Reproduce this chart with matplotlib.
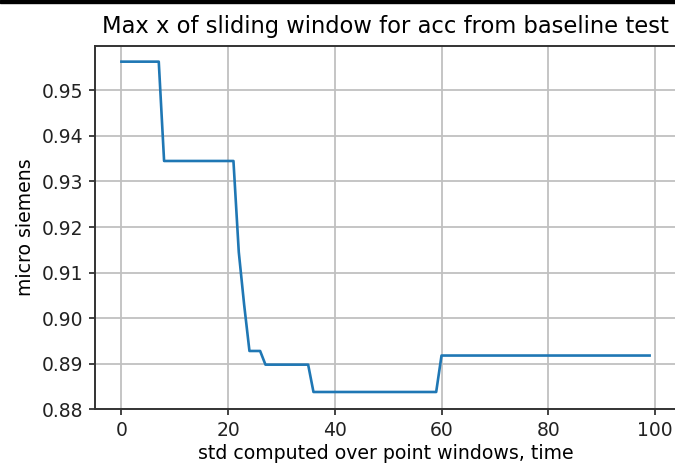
import matplotlib
matplotlib.use("Agg")
import matplotlib.pyplot as plt
from matplotlib.patches import Rectangle

title = "Max x of sliding window for acc from baseline test"
xlabel = "std computed over point windows, time"
ylabel = "micro siemens"

window = list(range(100))
max_x = [
    0.9563, 0.9563, 0.9563, 0.9563, 0.9563, 0.9563, 0.9563, 0.9563,
    0.9345, 0.9345, 0.9345, 0.9345, 0.9345, 0.9345, 0.9345, 0.9345,
    0.9345, 0.9345, 0.9345, 0.9345, 0.9345, 0.9345,
    0.9145, 0.9030,
    0.8928, 0.8928, 0.8928,
    0.8898, 0.8898, 0.8898, 0.8898, 0.8898, 0.8898, 0.8898, 0.8898, 0.8898,
    0.8838, 0.8838, 0.8838, 0.8838, 0.8838, 0.8838, 0.8838, 0.8838,
    0.8838, 0.8838, 0.8838, 0.8838, 0.8838, 0.8838, 0.8838, 0.8838,
    0.8838, 0.8838, 0.8838, 0.8838, 0.8838, 0.8838, 0.8838, 0.8838,
    0.8918, 0.8918, 0.8918, 0.8918, 0.8918, 0.8918, 0.8918, 0.8918,
    0.8918, 0.8918, 0.8918, 0.8918, 0.8918, 0.8918, 0.8918, 0.8918,
    0.8918, 0.8918, 0.8918, 0.8918, 0.8918, 0.8918, 0.8918, 0.8918,
    0.8918, 0.8918, 0.8918, 0.8918, 0.8918, 0.8918, 0.8918, 0.8918,
    0.8918, 0.8918, 0.8918, 0.8918, 0.8918, 0.8918, 0.8918, 0.8918,
]
xticks = [0, 20, 40, 60, 80, 100]
yticks = [0.88, 0.89, 0.90, 0.91, 0.92, 0.93, 0.94, 0.95]

W, H = 675, 472
fig = plt.figure(figsize=(W / 100, H / 100), dpi=100)
ax = fig.add_axes([95 / W, (H - 409.3) / H, 581 / W, 363.6 / H])

ax.plot(window, max_x, color="#1f77b4", linewidth=1.9)
ax.set_xlim(-4.95, 103.95)
ax.set_ylim(0.8800, 0.9598)
ax.set_xticks(xticks)
ax.set_yticks(yticks)
ax.set_yticklabels([f"{v:.2f}" for v in yticks])
ax.grid(True, color="#c0c0c0", linewidth=1.3)
ax.tick_params(labelsize=13.5, length=4.5, width=1.2, colors="#222222", pad=4)
for s in ax.spines.values():
    s.set_color("#333333")
    s.set_linewidth(1.4)

ax.set_title(title, fontsize=16.3, pad=9)
ax.set_xlabel(xlabel, fontsize=13.6, labelpad=3)
ax.set_ylabel(ylabel, fontsize=13.6, labelpad=5)

fig.patches.append(Rectangle((0, 1 - 3 / H), 1, 3 / H, transform=fig.transFigure,
                             color="black", zorder=10))

fig.savefig("out.png", dpi=100)
